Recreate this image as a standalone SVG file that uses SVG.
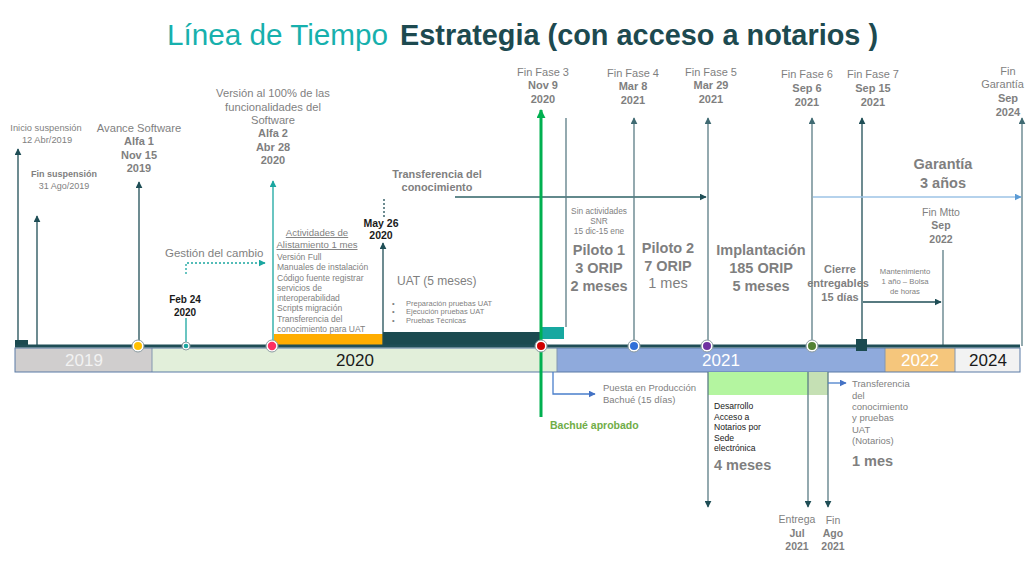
<svg xmlns="http://www.w3.org/2000/svg" width="1026" height="578" viewBox="0 0 1026 578">
<style>
text{font-family:"Liberation Sans",Arial,sans-serif;fill:#7f7f7f}
.c{text-anchor:middle}
.b{font-weight:bold}
.k{fill:#1a1a1a}
.ln{fill:none;stroke-width:1.3}
.dk{stroke:#1f4e56}
.gt{stroke:#5a7c84}
.tl{stroke:#1aa6a0}
.lb{stroke:#4a7fcb}
.yr{font-size:17px;text-anchor:middle}
</style>
<defs>
<marker id="ad" viewBox="0 0 10 10" refX="9" refY="5" markerWidth="7" markerHeight="7" orient="auto" markerUnits="userSpaceOnUse"><path d="M0,0 L10,5 L0,10 z" fill="#1f4e56"/></marker>
<marker id="ax" viewBox="0 0 10 10" refX="9" refY="5" markerWidth="7" markerHeight="7" orient="auto" markerUnits="userSpaceOnUse"><path d="M0,0 L10,5 L0,10 z" fill="#3f6a72"/></marker>
<marker id="at" viewBox="0 0 10 10" refX="9" refY="5" markerWidth="7" markerHeight="7" orient="auto" markerUnits="userSpaceOnUse"><path d="M0,0 L10,5 L0,10 z" fill="#1aa6a0"/></marker>
<marker id="ag" viewBox="0 0 10 10" refX="9" refY="5" markerWidth="9" markerHeight="9" orient="auto" markerUnits="userSpaceOnUse"><path d="M0,0 L10,5 L0,10 z" fill="#00b050"/></marker>
<marker id="ab" viewBox="0 0 10 10" refX="9" refY="5" markerWidth="7" markerHeight="7" orient="auto" markerUnits="userSpaceOnUse"><path d="M0,0 L10,5 L0,10 z" fill="#4472c4"/></marker>
<marker id="al" viewBox="0 0 10 10" refX="9" refY="5" markerWidth="7" markerHeight="7" orient="auto" markerUnits="userSpaceOnUse"><path d="M0,0 L10,5 L0,10 z" fill="#5b9bd5"/></marker>
</defs>
<rect width="1026" height="578" fill="#ffffff"/>

<g id="title">
<text x="167" y="45" font-size="30" textLength="221" lengthAdjust="spacingAndGlyphs" style="fill:#17b0ad">Línea de Tiempo</text>
<text x="400" y="45" font-size="30" class="b" textLength="478" lengthAdjust="spacingAndGlyphs" style="fill:#1d4a50">Estrategia (con acceso a notarios )</text>
</g>

<g id="year-band">
<rect x="15" y="348" width="137" height="24" fill="#d0cece"/>
<rect x="152" y="348" width="405" height="24" fill="#e2efda"/>
<rect x="557" y="348" width="328" height="24" fill="#8faadc"/>
<rect x="885" y="348" width="70" height="24" fill="#f5c67c"/>
<rect x="955" y="348" width="65" height="24" fill="#f2f2f2"/>
<line x1="152" y1="348" x2="152" y2="372" stroke="#8497b0" stroke-width="1"/>
<line x1="557" y1="348" x2="557" y2="372" stroke="#8497b0" stroke-width="1"/>
<line x1="885" y1="348" x2="885" y2="372" stroke="#8497b0" stroke-width="1"/>
<line x1="955" y1="348" x2="955" y2="372" stroke="#8497b0" stroke-width="1"/>
<rect x="15" y="348" width="1005" height="24" fill="none" stroke="#5b7ba6" stroke-width="1"/>
<text x="84" y="366" class="yr" style="fill:#f2f2f2">2019</text>
<text x="355" y="366" class="yr k">2020</text>
<text x="721" y="366" class="yr" style="fill:#ffffff">2021</text>
<text x="920" y="366" class="yr" style="fill:#ffffff">2022</text>
<text x="988" y="366" class="yr k">2024</text>
</g>

<g id="bars">
<rect x="274" y="334" width="109" height="12" fill="#ffad00"/>
<rect x="383" y="332" width="158" height="14" fill="#1b4a50"/>
<rect x="542" y="327" width="22" height="12" fill="#17a8a0"/>
<rect x="15" y="340" width="13" height="7" fill="#1b4a50"/>
<rect x="708" y="372" width="100" height="23" fill="#b4f5a0"/>
<rect x="808" y="372" width="20" height="23" fill="#c5e0b4"/>
</g>

<g id="connectors">
<path class="ln dk" d="M18 340 V149" marker-end="url(#ad)"/>
<path class="ln dk" d="M37 346 V216" marker-end="url(#ad)"/>
<path class="ln dk" d="M139 341 V182" marker-end="url(#ad)"/>
<path class="ln tl" d="M186 346 V318"/>
<path class="ln tl" d="M186 274 V263 H265" stroke-dasharray="2,2" marker-end="url(#at)"/>
<path class="ln tl" d="M273 340 V181" stroke-width="1.6" marker-end="url(#at)"/>
<path class="ln dk" d="M383 346 V243" marker-end="url(#ad)"/>
<path class="ln dk" d="M384 199 V217" stroke-dasharray="2,2"/>
<path class="ln" d="M455 197 H706" stroke="#2e6266" marker-end="url(#ad)"/>
<path class="ln gt" d="M566 118 V327"/>
<path class="ln gt" d="M634 340 V118" marker-end="url(#ax)"/>
<path class="ln gt" d="M708 340 V118" marker-end="url(#ax)"/>
<path class="ln gt" d="M812 340 V118" marker-end="url(#ax)"/>
<path class="ln dk" d="M862 339 V118" marker-end="url(#ad)"/>
<path class="ln gt" d="M1022 346 V118" marker-end="url(#ax)"/>
<path class="ln" d="M813 197 H1021" stroke="#9dc3e6" stroke-width="1.6" marker-end="url(#al)"/>
<path class="ln gt" d="M943 250 V346"/>
<path class="ln dk" d="M863 302 H941" marker-end="url(#ad)"/>
<path fill="none" stroke="#00b050" stroke-width="3" d="M541 417 V110" marker-end="url(#ag)"/>
<path class="ln lb" d="M553 372 V394 H595" marker-end="url(#ab)"/>
<path class="ln gt" d="M708 372 V507" marker-end="url(#ad)"/>
<path class="ln gt" d="M808 372 V507" marker-end="url(#ad)"/>
<path class="ln gt" d="M828 372 V507" marker-end="url(#ad)"/>
<path class="ln lb" d="M828 383 H846" marker-end="url(#ab)"/>
<line x1="15" y1="346" x2="1020" y2="346" stroke="#1f4e56" stroke-width="3"/>
</g>

<g id="milestone-dots">
<circle cx="138" cy="346" r="6" fill="#ffffff" stroke="#8a9aa0" stroke-width="1"/><circle cx="138" cy="346" r="4" fill="#ffc000"/>
<circle cx="186" cy="346" r="4" fill="#ffffff" stroke="#8a9aa0" stroke-width="1"/><circle cx="186" cy="346" r="2.3" fill="#1aa6a0"/>
<circle cx="272" cy="346" r="6" fill="#ffffff" stroke="#8a9aa0" stroke-width="1"/><circle cx="272" cy="346" r="4.2" fill="#ff2f62"/>
<circle cx="541" cy="346" r="6" fill="#ffffff" stroke="#8a9aa0" stroke-width="1"/><circle cx="541" cy="346" r="4" fill="#d00000"/>
<circle cx="634" cy="346" r="6" fill="#ffffff" stroke="#8a9aa0" stroke-width="1"/><circle cx="634" cy="346" r="4" fill="#2f6fd8"/>
<circle cx="707" cy="346" r="6" fill="#ffffff" stroke="#8a9aa0" stroke-width="1"/><circle cx="707" cy="346" r="4" fill="#7030a0"/>
<circle cx="812" cy="346" r="6" fill="#ffffff" stroke="#8a9aa0" stroke-width="1"/><circle cx="812" cy="346" r="4" fill="#548235"/>
<rect x="856" y="339" width="11" height="12" fill="#1b4a50"/>
</g>

<g id="inicio-suspension" font-size="9.3">
<text x="46" y="131" class="c">Inicio suspensión</text>
<text x="47" y="143" class="c">12 Abr/2019</text>
</g>
<g id="fin-suspension" font-size="9">
<text x="64" y="177" class="c b">Fin suspensión</text>
<text x="64" y="189" class="c">31 Ago/2019</text>
</g>
<g id="alfa1" font-size="11.2">
<text x="139" y="132" class="c">Avance Software</text>
<text x="139" y="145" class="c b" font-size="11">Alfa 1</text>
<text x="139" y="159" class="c b" font-size="11">Nov 15</text>
<text x="139" y="172" class="c b" font-size="11">2019</text>
</g>
<g id="alfa2" font-size="11.2">
<text x="273" y="97" class="c">Versión al 100% de las</text>
<text x="273" y="111" class="c">funcionalidades del</text>
<text x="273" y="124" class="c">Software</text>
<text x="273" y="137" class="c b" font-size="11">Alfa 2</text>
<text x="273" y="151" class="c b" font-size="11">Abr 28</text>
<text x="273" y="164" class="c b" font-size="11">2020</text>
</g>
<g id="gestion-cambio">
<text x="165" y="257" font-size="11.5">Gestión del cambio</text>
<text x="185" y="303" class="c b k" font-size="10">Feb 24</text>
<text x="185" y="316" class="c b k" font-size="10">2020</text>
</g>
<g id="alistamiento" font-size="8.5">
<text x="317" y="236" class="c" font-size="9.6" text-decoration="underline">Actividades de</text>
<text x="317" y="248" class="c" font-size="9.6" text-decoration="underline">Alistamiento 1 mes</text>
<text x="277" y="260">Versión Full</text>
<text x="277" y="270">Manuales de instalación</text>
<text x="277" y="281">Código fuente registrar</text>
<text x="277" y="291">servicios de</text>
<text x="277" y="301">interoperabilidad</text>
<text x="277" y="311">Scripts migración</text>
<text x="277" y="322">Transferencia del</text>
<text x="277" y="332">conocimiento para UAT</text>
</g>
<g id="may26">
<text x="381" y="227" class="c b k" font-size="10.5">May 26</text>
<text x="381" y="239" class="c b k" font-size="10.5">2020</text>
</g>
<g id="uat">
<text x="397" y="285" font-size="12">UAT (5 meses)</text>
<text x="392" y="306" font-size="7.5">•</text>
<text x="406" y="306" font-size="7.5">Preparación pruebas UAT</text>
<text x="392" y="314" font-size="7.5">•</text>
<text x="406" y="314" font-size="7.5">Ejecución pruebas UAT</text>
<text x="392" y="323" font-size="7.5">•</text>
<text x="406" y="323" font-size="7.5">Pruebas Técnicas</text>
</g>
<g id="transferencia">
<text x="437" y="178" class="c b" font-size="10.9">Transferencia del</text>
<text x="437" y="191" class="c b" font-size="10.9">conocimiento</text>
</g>
<g id="fin-fase-3" font-size="11">
<text x="543" y="76" class="c">Fin Fase 3</text>
<text x="543" y="89" class="c b">Nov 9</text>
<text x="543" y="103" class="c b">2020</text>
</g>
<g id="fin-fase-4" font-size="11">
<text x="633" y="77" class="c">Fin Fase 4</text>
<text x="633" y="90" class="c b">Mar 8</text>
<text x="633" y="104" class="c b">2021</text>
</g>
<g id="fin-fase-5" font-size="11">
<text x="711" y="76" class="c">Fin Fase 5</text>
<text x="711" y="89" class="c b">Mar 29</text>
<text x="711" y="103" class="c b">2021</text>
</g>
<g id="fin-fase-6" font-size="11">
<text x="807" y="78" class="c">Fin Fase 6</text>
<text x="807" y="92" class="c b">Sep 6</text>
<text x="807" y="106" class="c b">2021</text>
</g>
<g id="fin-fase-7" font-size="11">
<text x="873" y="78" class="c">Fin Fase 7</text>
<text x="873" y="92" class="c b">Sep 15</text>
<text x="873" y="106" class="c b">2021</text>
</g>
<g id="fin-garantia" font-size="11">
<text x="1008" y="75" class="c">Fin</text>
<text x="1024" y="88" text-anchor="end">Garantía</text>
<text x="1008" y="102" class="c b">Sep</text>
<text x="1008" y="116" class="c b">2024</text>
</g>
<g id="piloto1">
<text x="599" y="214" class="c" font-size="8.3">Sin actividades</text>
<text x="599" y="224" class="c" font-size="8.3">SNR</text>
<text x="599" y="234" class="c" font-size="8.3">15 dic-15 ene</text>
<text x="599" y="255" class="c b" font-size="14.5">Piloto 1</text>
<text x="599" y="273" class="c b" font-size="14.5">3 ORIP</text>
<text x="599" y="291" class="c b" font-size="14.5">2 meses</text>
</g>
<g id="piloto2">
<text x="668" y="253" class="c b" font-size="14.5">Piloto 2</text>
<text x="668" y="271" class="c b" font-size="14.5">7 ORIP</text>
<text x="668" y="288" class="c" font-size="14.5">1 mes</text>
</g>
<g id="implantacion">
<text x="761" y="255" class="c b" font-size="14.5">Implantación</text>
<text x="761" y="273" class="c b" font-size="14.5">185 ORIP</text>
<text x="761" y="291" class="c b" font-size="14.5">5 meses</text>
</g>
<g id="cierre" font-size="11">
<text x="840" y="273" class="c b">Cierre</text>
<text x="838" y="287" class="c b">entregables</text>
<text x="840" y="301" class="c b">15 días</text>
</g>
<g id="garantia">
<text x="943" y="169" class="c b" font-size="14.5">Garantía</text>
<text x="943" y="188" class="c b" font-size="14.5">3 años</text>
</g>
<g id="fin-mtto" font-size="10.5">
<text x="941" y="216" class="c">Fin Mtto</text>
<text x="941" y="229" class="c b">Sep</text>
<text x="941" y="243" class="c b">2022</text>
</g>
<g id="mantenimiento" font-size="7.7">
<text x="905" y="274" class="c">Mantenimiento</text>
<text x="905" y="284" class="c">1 año – Bolsa</text>
<text x="905" y="294" class="c">de horas</text>
</g>
<g id="bachue">
<text x="550" y="429" class="b" font-size="10.5" style="fill:#70ad47">Bachué aprobado</text>
<text x="603" y="391" font-size="9.5">Puesta en Producción</text>
<text x="603" y="403" font-size="9.5">Bachué (15 días)</text>
</g>
<g id="desarrollo" font-size="8.6">
<text x="714" y="409" class="k">Desarrollo</text>
<text x="714" y="420" class="k">Acceso a</text>
<text x="714" y="430" class="k">Notarios por</text>
<text x="714" y="441" class="k">Sede</text>
<text x="714" y="451" class="k">electrónica</text>
<text x="714" y="470" class="b" font-size="14.5">4 meses</text>
</g>
<g id="transferencia-notarios" font-size="9.5">
<text x="852" y="387">Transferencia</text>
<text x="852" y="399">del</text>
<text x="852" y="410">conocimiento</text>
<text x="852" y="421">y pruebas</text>
<text x="852" y="433">UAT</text>
<text x="852" y="444">(Notarios)</text>
<text x="852" y="466" class="b" font-size="14.5">1 mes</text>
</g>
<g id="entrega" font-size="10.5">
<text x="797" y="523" class="c">Entrega</text>
<text x="797" y="537" class="c b">Jul</text>
<text x="797" y="550" class="c b">2021</text>
</g>
<g id="fin-ago" font-size="10.5">
<text x="833" y="524" class="c">Fin</text>
<text x="833" y="537" class="c b">Ago</text>
<text x="833" y="550" class="c b">2021</text>
</g>
</svg>
